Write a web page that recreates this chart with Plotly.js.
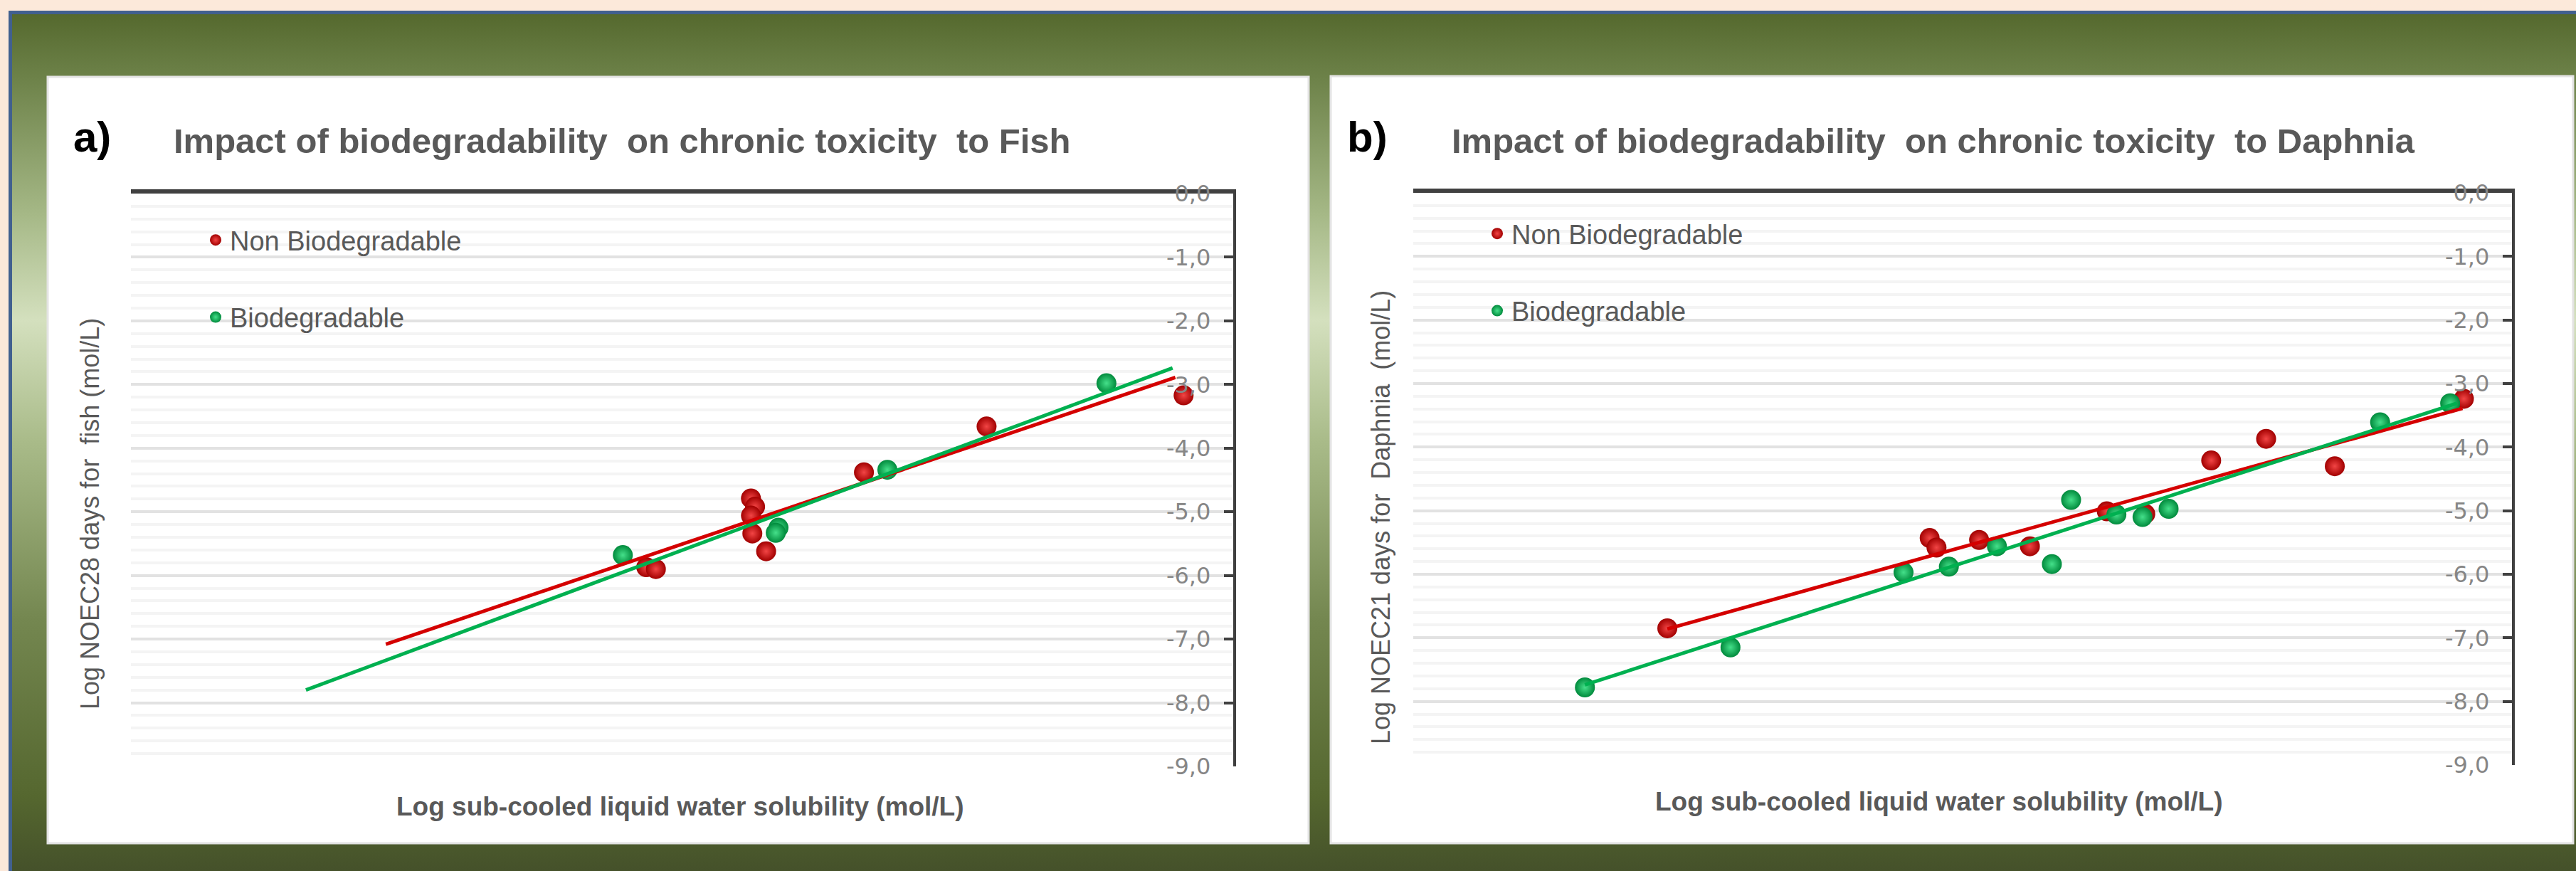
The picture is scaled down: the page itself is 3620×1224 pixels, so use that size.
<!DOCTYPE html>
<html>
<head>
<meta charset="utf-8">
<script src="https://cdn.plot.ly/plotly-3.0.1.min.js"></script>
<style>
html, body { margin:0; padding:0; width:3620px; height:1224px; overflow:hidden; }
body { background:#FCE9DA; position:relative; }
#bg { position:absolute; left:12px; top:15px; width:3608px; height:1209px; box-sizing:border-box;
  border-left:5px solid #41608F; border-top:5px solid #41608F;
  background:linear-gradient(to bottom, #55692E 0px, #6D8249 90px, #A5B886 280px, #D4E0BE 430px, #A9BB89 600px, #748750 850px, #55672F 1100px, #44502A 1209px); }
#chart { position:absolute; left:0; top:0; width:3620px; height:1224px; }
</style>
</head>
<body>
<div id="bg"></div>
<div id="chart"></div>
<script>
// ---------- Data (x axis has no labels, units arbitrary on [-8, 0]) ----------
// Panel a) Fish
const fishNonBioX = [-4.26, -4.19, -3.50, -3.47, -3.50, -3.49, -3.39, -2.68, -1.79, -0.36];
const fishNonBioY = [-5.87, -5.90, -4.79, -4.92, -5.06, -5.34, -5.62, -4.38, -3.66, -3.17];
const fishBioX = [-4.43, -3.30, -3.32, -2.51, -0.92];
const fishBioY = [-5.68, -5.25, -5.33, -4.34, -2.98];
const fishNonBioTrendX = [-6.15, -0.42];
const fishNonBioTrendY = [-7.08, -2.89];
const fishBioTrendX = [-6.73, -0.44];
const fishBioTrendY = [-7.80, -2.74];

// Panel b) Daphnia
const daphNonBioX = [-6.15, -4.24, -4.19, -3.88, -3.51, -2.95, -2.67, -2.19, -1.79, -1.29, -0.35];
const daphNonBioY = [-6.85, -5.43, -5.58, -5.46, -5.56, -5.01, -5.05, -4.21, -3.87, -4.30, -3.24];
const daphBioX = [-6.75, -5.69, -4.43, -4.10, -3.75, -3.35, -3.21, -2.88, -2.69, -2.50, -0.96, -0.45];
const daphBioY = [-7.78, -7.15, -5.97, -5.88, -5.56, -5.84, -4.83, -5.06, -5.10, -4.97, -3.61, -3.31];
const daphNonBioTrendX = [-6.15, -0.36];
const daphNonBioTrendY = [-6.86, -3.39];
const daphBioTrendX = [-6.75, -0.40];
const daphBioTrendY = [-7.74, -3.31];

// Axis ticks
const yTickVals = [0, -1, -2, -3, -4, -5, -6, -7, -8, -9];
const yTickLabels = ['0,0', '-1,0', '-2,0', '-3,0', '-4,0', '-5,0', '-6,0', '-7,0', '-8,0', '-9,0'];

// Texts
const seriesNames = ['Non Biodegradable', 'Biodegradable'];
const panelLetters = ['a)', 'b)'];
const panelTitles = ['Impact of biodegradability\u00A0 on chronic toxicity\u00A0 to Fish',
                     'Impact of biodegradability\u00A0 on chronic toxicity\u00A0 to Daphnia'];
const xTitles = ['Log sub-cooled liquid water solubility (mol/L)', 'Log sub-cooled liquid water solubility (mol/L)'];
const yTitles = ['Log NOEC28 days for\u00A0 fish (mol/L)', 'Log NOEC21 days for\u00A0 Daphnia\u00A0 (mol/L)'];

// ---------- Styling ----------
const W = 3620, H = 1224;
const px = v => v / W;
const py = v => 1 - v / H;
const FONT = 'Liberation Sans, Arial, sans-serif';
const GREEN = '#00B050';

function markerStyle(kind) {
  return kind === 'red'
    ? { size: 28, color: '#A20000', gradient: { type: 'radial', color: '#F24545' }, line: { width: 0 } }
    : { size: 28, color: '#008A3C', gradient: { type: 'radial', color: '#45E08A' }, line: { width: 0 } };
}

const traces = [
  // panel a
  { x: fishNonBioX, y: fishNonBioY, xaxis: 'x', yaxis: 'y', type: 'scatter', mode: 'markers',
    name: seriesNames[0], legend: 'legend', legendgroup: 'a_nb', marker: markerStyle('red') },
  { x: fishBioX, y: fishBioY, xaxis: 'x', yaxis: 'y', type: 'scatter', mode: 'markers',
    name: seriesNames[1], legend: 'legend', legendgroup: 'a_b', marker: markerStyle('green') },
  { x: fishNonBioTrendX, y: fishNonBioTrendY, xaxis: 'x', yaxis: 'y', type: 'scatter', mode: 'lines',
    showlegend: false, line: { color: '#D40000', width: 5 } },
  { x: fishBioTrendX, y: fishBioTrendY, xaxis: 'x', yaxis: 'y', type: 'scatter', mode: 'lines',
    showlegend: false, line: { color: GREEN, width: 5 } },
  // panel b
  { x: daphNonBioX, y: daphNonBioY, xaxis: 'x2', yaxis: 'y2', type: 'scatter', mode: 'markers',
    name: seriesNames[0], legend: 'legend2', legendgroup: 'b_nb', marker: markerStyle('red') },
  { x: daphBioX, y: daphBioY, xaxis: 'x2', yaxis: 'y2', type: 'scatter', mode: 'markers',
    name: seriesNames[1], legend: 'legend2', legendgroup: 'b_b', marker: markerStyle('green') },
  { x: daphNonBioTrendX, y: daphNonBioTrendY, xaxis: 'x2', yaxis: 'y2', type: 'scatter', mode: 'lines',
    showlegend: false, line: { color: '#D40000', width: 5 } },
  { x: daphBioTrendX, y: daphBioTrendY, xaxis: 'x2', yaxis: 'y2', type: 'scatter', mode: 'lines',
    showlegend: false, line: { color: GREEN, width: 5 } }
];

function xAxis(domain, anchor) {
  return { domain: domain, anchor: anchor, range: [-8, 0], side: 'top', showline: true,
    linecolor: '#404040', linewidth: 6, showgrid: false, zeroline: false,
    showticklabels: false, ticks: '', fixedrange: true };
}
function yAxis(domain, anchor) {
  return { domain: domain, anchor: anchor, range: [-9, 0], side: 'right',
    tickmode: 'array', tickvals: yTickVals, ticktext: yTickLabels,
    ticks: 'inside', ticklen: 13, tickwidth: 4, tickcolor: '#404040',
    ticklabelposition: 'inside', ticklabeloverflow: 'allow', ticklabelstandoff: 22,
    tickfont: { family: 'DejaVu Sans, sans-serif', size: 32, color: '#868686' },
    showline: true, linecolor: '#404040', linewidth: 4,
    showgrid: true, gridcolor: '#E2E2E2', gridwidth: 4, zeroline: false,
    minor: { dtick: 0.2, tick0: 0, showgrid: true, gridcolor: '#F4F4F4', gridwidth: 4, ticks: '' },
    fixedrange: true };
}

function legendAt(xpix, ypix) {
  return { x: px(xpix), y: py(ypix), xref: 'paper', yref: 'paper', xanchor: 'left', yanchor: 'top',
    bgcolor: 'rgba(0,0,0,0)', borderwidth: 0, tracegroupgap: 56, itemsizing: 'trace',
    font: { family: FONT, size: 38, color: '#595959' } };
}

const annotations = [];
function addText(text, x, y, opts) {
  annotations.push(Object.assign({ text: text, x: px(x), y: py(y), xref: 'paper', yref: 'paper',
    showarrow: false, xanchor: 'left', yanchor: 'middle' }, opts));
}
// Panel letters and titles
addText(panelLetters[0], 101, 192, { font: { family: FONT, size: 60, color: '#000000', weight: 'bold' } });
addText(panelLetters[1], 1891, 192, { font: { family: FONT, size: 60, color: '#000000', weight: 'bold' } });
addText(panelTitles[0], 242, 198, { font: { family: FONT, size: 49, color: '#595959', weight: 'bold' } });
addText(panelTitles[1], 2038, 198, { font: { family: FONT, size: 49, color: '#595959', weight: 'bold' } });
// X titles
addText(xTitles[0], 956, 1133, { xanchor: 'center', font: { family: FONT, size: 37, color: '#595959', weight: 'bold' } });
addText(xTitles[1], 2725, 1126, { xanchor: 'center', font: { family: FONT, size: 37, color: '#595959', weight: 'bold' } });
// Y titles
addText(yTitles[0], 126, 722, { xanchor: 'center', textangle: -90, font: { family: FONT, size: 36, color: '#595959' } });
addText(yTitles[1], 1940, 727, { xanchor: 'center', textangle: -90, font: { family: FONT, size: 36, color: '#595959' } });

const shapes = [
  { type: 'rect', xref: 'paper', yref: 'paper', layer: 'below',
    x0: px(67), x1: px(1839), y0: py(1185), y1: py(108),
    fillcolor: '#FFFFFF', line: { color: '#E3E3E3', width: 3 } },
  { type: 'rect', xref: 'paper', yref: 'paper', layer: 'below',
    x0: px(1870), x1: px(3616), y0: py(1185), y1: py(107),
    fillcolor: '#FFFFFF', line: { color: '#E3E3E3', width: 3 } }
];

const layout = {
  width: W, height: H,
  margin: { l: 0, r: 0, t: 0, b: 0, pad: 0 },
  paper_bgcolor: 'rgba(0,0,0,0)',
  plot_bgcolor: '#FFFFFF',
  showlegend: true,
  xaxis: xAxis([px(184), px(1733)], 'y'),
  yaxis: yAxis([py(1077), py(272)], 'x'),
  xaxis2: xAxis([px(1986), px(3530)], 'y2'),
  yaxis2: yAxis([py(1075), py(271)], 'x2'),
  legend: legendAt(283, 306),
  legend2: legendAt(2084, 297),
  annotations: annotations,
  shapes: shapes,
  font: { family: FONT }
};

Plotly.newPlot('chart', traces, layout, { displayModeBar: false, staticPlot: true });
</script>
</body>
</html>
